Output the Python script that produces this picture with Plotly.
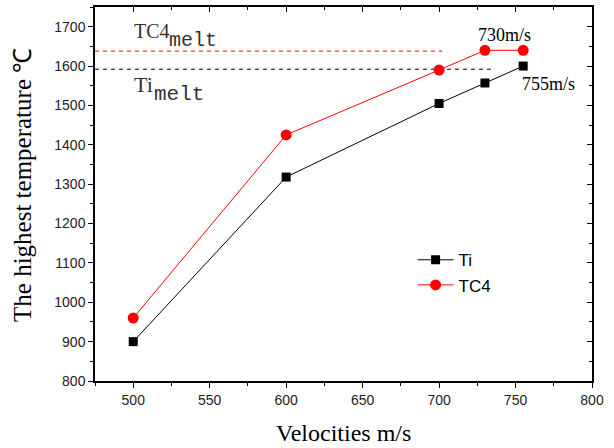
import plotly.graph_objects as go

velocities = [500, 600, 700, 730, 755]
ti_temp = [900, 1318, 1505, 1557, 1600]
tc4_temp = [960, 1425, 1590, 1640, 1640]

tc4_melt = 1638
ti_melt = 1592
tc4_melt_end = 702
ti_melt_end = 736

x_range = [475, 800]
y_range = [800, 1750]
x_ticks = [500, 550, 600, 650, 700, 750, 800]
y_ticks = [800, 900, 1000, 1100, 1200, 1300, 1400, 1500, 1600, 1700]

fig = go.Figure()
fig.add_trace(go.Scatter(x=[x_range[0], tc4_melt_end], y=[tc4_melt, tc4_melt], mode="lines",
                         line=dict(color="red", width=1, dash="4px,4px"), showlegend=False, hoverinfo="skip"))
fig.add_trace(go.Scatter(x=[x_range[0], ti_melt_end], y=[ti_melt, ti_melt], mode="lines",
                         line=dict(color="black", width=1, dash="4px,4px"), showlegend=False, hoverinfo="skip"))
fig.add_trace(go.Scatter(x=velocities, y=ti_temp, mode="lines+markers", name="Ti",
                         line=dict(color="black", width=1),
                         marker=dict(symbol="square", size=9, color="black")))
fig.add_trace(go.Scatter(x=velocities, y=tc4_temp, mode="lines+markers", name="TC4",
                         line=dict(color="red", width=1),
                         marker=dict(symbol="circle", size=11, color="red")))
# invisible trace to attach mirrored axes
fig.add_trace(go.Scatter(x=[x_range[0]], y=[y_range[0]], xaxis="x2", yaxis="y2", mode="markers",
                         marker=dict(opacity=0), showlegend=False, hoverinfo="skip"))

tickfont = dict(family="Arial, Liberation Sans", size=14, color="#222")
serif = "Liberation Serif, Times New Roman, serif"
mono = "Liberation Mono, monospace"

fig.update_layout(
    width=614, height=448,
    margin=dict(l=95, r=22, t=7, b=67, autoexpand=False),
    plot_bgcolor="white", paper_bgcolor="white",
    showlegend=True,
    legend=dict(x=0.639, y=0.371, xanchor="left", yanchor="top", bgcolor="rgba(0,0,0,0)",
                font=dict(family="Arial, Liberation Sans", size=17, color="black"),
                tracegroupgap=0, itemwidth=36),
    xaxis=dict(range=x_range, tickvals=x_ticks, showgrid=False, zeroline=False, automargin=False,
               showline=True, linecolor="black", linewidth=1.5,
               ticks="outside", ticklen=5, tickcolor="black", tickwidth=1, tickfont=tickfont,
               minor=dict(dtick=25, tick0=475, ticks="outside", ticklen=3, tickcolor="black")),
    yaxis=dict(range=y_range, tickvals=y_ticks, showgrid=False, zeroline=False, automargin=False,
               showline=True, linecolor="black", linewidth=1.5,
               ticks="outside", ticklen=5, tickcolor="black", tickwidth=1, tickfont=tickfont,
               minor=dict(dtick=50, tick0=750, ticks="outside", ticklen=3, tickcolor="black")),
    xaxis2=dict(range=x_range, overlaying="x", side="top", tickvals=x_ticks, showticklabels=False,
                automargin=False,
                showgrid=False, zeroline=False, showline=True, linecolor="black", linewidth=1.5,
                ticks="inside", ticklen=5, tickcolor="black",
                minor=dict(dtick=25, tick0=475, ticks="inside", ticklen=3, tickcolor="black")),
    yaxis2=dict(range=y_range, overlaying="y", side="right", tickvals=y_ticks, showticklabels=False,
                automargin=False,
                showgrid=False, zeroline=False, showline=True, linecolor="black", linewidth=1.5,
                ticks="inside", ticklen=5, tickcolor="black",
                minor=dict(dtick=50, tick0=750, ticks="inside", ticklen=3, tickcolor="black")),
)

# axis titles
fig.add_annotation(xref="paper", yref="paper", x=0.5, y=-0.139, text="Velocities m/s",
                   showarrow=False, xanchor="center", yanchor="middle",
                   font=dict(family=serif, size=24, color="black"))
fig.add_annotation(xref="paper", yref="paper", x=-0.147, y=0.524, text="The highest temperature ℃",
                   showarrow=False, xanchor="center", yanchor="middle", textangle=-90,
                   font=dict(family=serif, size=25, color="black"))

# melt labels
lab_col = "#333"
fig.add_annotation(x=499, y=1688, text="TC4", showarrow=False, xanchor="left", yanchor="middle",
                   font=dict(family=serif, size=20, color=lab_col))
fig.add_annotation(x=522.2, y=1664, text="melt", showarrow=False, xanchor="left", yanchor="middle",
                   font=dict(family=mono, size=20, color=lab_col))
fig.add_annotation(x=499.5, y=1552, text="Ti", showarrow=False, xanchor="left", yanchor="middle",
                   font=dict(family=serif, size=22, color=lab_col))
fig.add_annotation(x=512, y=1527, text="melt", showarrow=False, xanchor="left", yanchor="middle",
                   font=dict(family=mono, size=21, color=lab_col))

ann_font = dict(family=serif, size=18, color="black")
fig.add_annotation(x=743, y=1679, text="730m/s", showarrow=False, font=ann_font, yanchor="middle")
fig.add_annotation(x=771.5, y=1554, text="755m/s", showarrow=False, font=ann_font, yanchor="middle")

fig.write_html("out.html", config={"displayModeBar": False},
               post_script="document.body.style.margin='0';")
